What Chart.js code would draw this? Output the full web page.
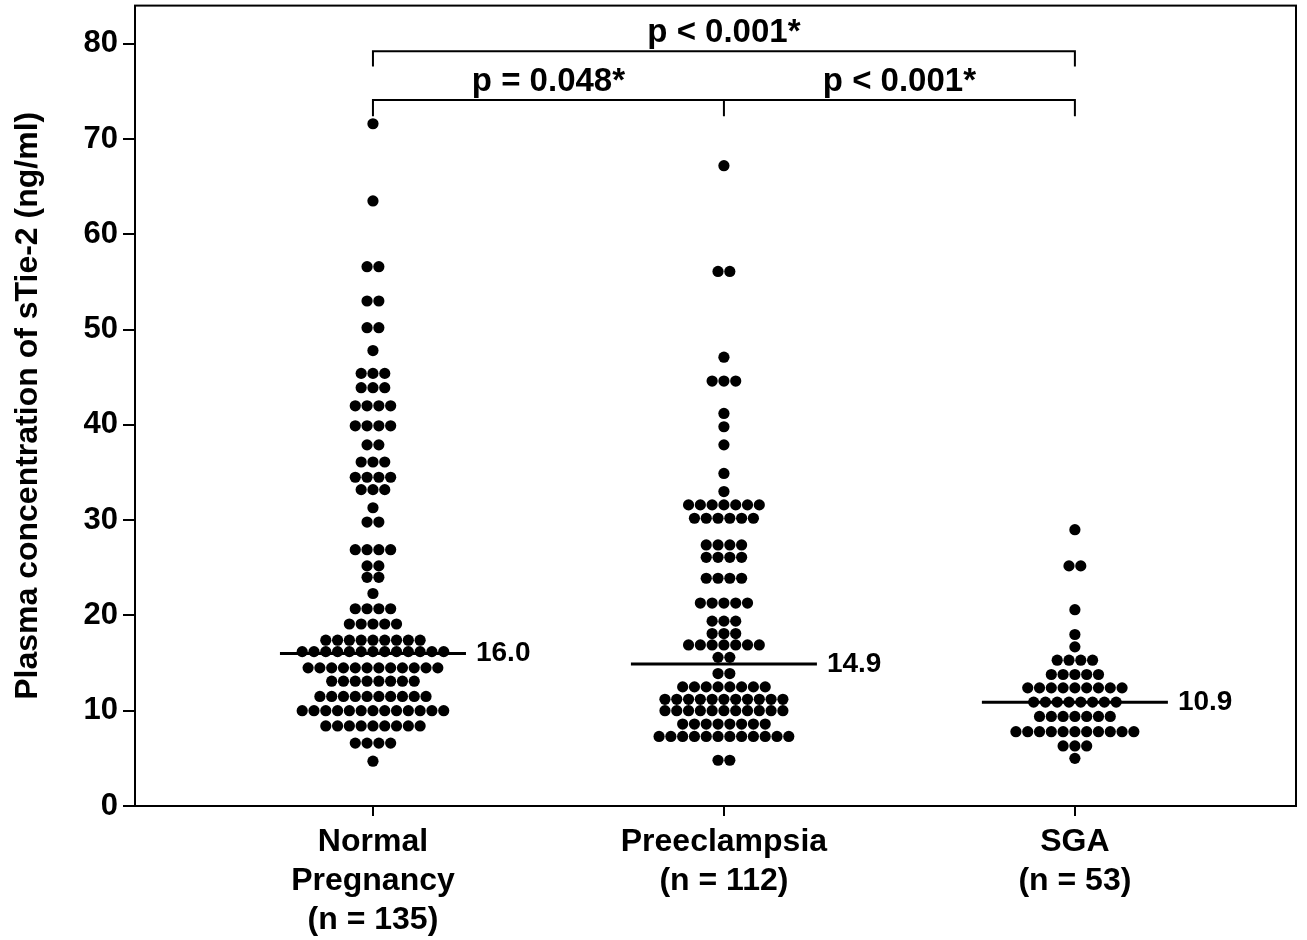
<!DOCTYPE html>
<html>
<head>
<meta charset="utf-8">
<script src="https://cdn.jsdelivr.net/npm/chart.js@4.4.1/dist/chart.umd.min.js"></script>
<style>
  html, body { margin: 0; padding: 0; background: #fff; }
</style>
</head>
<body>
<canvas id="graficoSTie2" width="1307" height="940"></canvas>
<script>
// categorias e rótulos
const categoryLabels = [
  ["Normal", "Pregnancy", "(n = 135)"],
  ["Preeclampsia", "(n = 112)"],
  ["SGA", "(n = 53)"]
];
const yTicks = [0, 10, 20, 30, 40, 50, 60, 70, 80];

// valores (nível, quantidade de pontos naquele nível)
const normalLevels = [71.6, 63.5, 56.6, 53.0, 50.2, 47.8, 45.4, 43.9, 42.0, 39.9, 37.9, 36.1, 34.5, 33.2, 31.3, 29.8, 26.9, 25.2, 24.0, 22.3, 20.7, 19.1, 17.4, 16.2, 14.5, 13.1, 11.5, 10.0, 8.4, 6.6, 4.7];
const normalCounts = [1, 1, 2, 2, 2, 1, 3, 3, 4, 4, 2, 3, 4, 3, 1, 2, 4, 2, 2, 1, 4, 5, 9, 13, 12, 8, 10, 13, 9, 4, 1];

const preeclampsiaLevels = [67.2, 56.1, 47.1, 44.6, 41.2, 39.8, 37.9, 34.9, 33.0, 31.6, 30.2, 27.4, 26.1, 23.9, 21.3, 19.4, 18.1, 16.9, 15.6, 13.9, 12.5, 11.2, 10.0, 8.6, 7.3, 4.8];
const preeclampsiaCounts = [1, 2, 1, 3, 1, 1, 1, 1, 1, 7, 6, 4, 4, 4, 5, 3, 3, 7, 2, 2, 8, 11, 11, 8, 12, 2];

const sgaLevels = [29.0, 25.2, 20.6, 18.0, 16.7, 15.3, 13.8, 12.4, 10.9, 9.4, 7.8, 6.3, 5.0];
const sgaCounts = [1, 2, 1, 1, 1, 4, 5, 9, 8, 7, 11, 3, 1];

const medians = [16.0, 14.9, 10.9];
const pValues = ["p < 0.001*", "p = 0.048*", "p < 0.001*"];

const FONT = "'Liberation Sans', Arial, sans-serif";
const dotGap = 0.0336;     // distância horizontal entre pontos (unidades do eixo x)
const medianHalf = 0.265;  // meia largura da linha da mediana

function swarm(pos, levels, counts) {
  const pts = [];
  levels.forEach((v, i) => {
    const n = counts[i];
    for (let k = 0; k < n; k++) {
      pts.push({ x: pos + (k - (n - 1) / 2) * dotGap, y: v });
    }
  });
  return pts;
}

const groups = [
  swarm(1, normalLevels, normalCounts),
  swarm(2, preeclampsiaLevels, preeclampsiaCounts),
  swarm(3, sgaLevels, sgaCounts)
];

const datasets = groups.map(pts => ({
  type: "scatter",
  data: pts,
  pointRadius: 5.6,
  pointBackgroundColor: "#000",
  pointBorderWidth: 0,
  pointHoverRadius: 5.6
}));

medians.forEach((m, i) => {
  datasets.push({
    type: "line",
    data: [{ x: i + 1 - medianHalf, y: m }, { x: i + 1 + medianHalf, y: m }],
    borderColor: "#000",
    borderWidth: 3,
    pointRadius: 0,
    fill: false
  });
});

// moldura, colchetes e rótulos das medianas
const extras = {
  id: "extras",
  afterDatasetsDraw(chart) {
    const { ctx, chartArea, scales } = chart;
    const x = scales.x, y = scales.y;
    ctx.save();
    ctx.strokeStyle = "#000";
    ctx.lineWidth = 2;
    ctx.strokeRect(chartArea.left, chartArea.top, chartArea.right - chartArea.left, chartArea.bottom - chartArea.top);

    // colchetes
    const yTop = y.getPixelForValue(79.2), yTopEnd = y.getPixelForValue(77.6);
    const yLow = y.getPixelForValue(74.1), yLowEnd = y.getPixelForValue(72.4);
    ctx.beginPath();
    ctx.moveTo(x.getPixelForValue(1), yTopEnd);
    ctx.lineTo(x.getPixelForValue(1), yTop);
    ctx.lineTo(x.getPixelForValue(3), yTop);
    ctx.lineTo(x.getPixelForValue(3), yTopEnd);
    ctx.moveTo(x.getPixelForValue(1), yLowEnd);
    ctx.lineTo(x.getPixelForValue(1), yLow);
    ctx.lineTo(x.getPixelForValue(3), yLow);
    ctx.lineTo(x.getPixelForValue(3), yLowEnd);
    ctx.moveTo(x.getPixelForValue(2), yLow);
    ctx.lineTo(x.getPixelForValue(2), yLowEnd);
    ctx.stroke();

    ctx.fillStyle = "#000";
    ctx.font = "bold 33px " + FONT;
    ctx.textAlign = "center";
    ctx.textBaseline = "alphabetic";
    ctx.fillText(pValues[0], x.getPixelForValue(2), yTop - 9);
    ctx.fillText(pValues[1], x.getPixelForValue(1.5), yLow - 9);
    ctx.fillText(pValues[2], x.getPixelForValue(2.5), yLow - 9);

    // valores das medianas
    ctx.font = "bold 28px " + FONT;
    ctx.textAlign = "left";
    ctx.textBaseline = "middle";
    medians.forEach((m, i) => {
      ctx.fillText(m.toFixed(1), x.getPixelForValue(i + 1 + medianHalf) + 10, y.getPixelForValue(m));
    });
    ctx.restore();
  }
};

const chartInstance = new Chart(document.getElementById("graficoSTie2"), {
  type: "scatter",
  data: { datasets },
  plugins: [extras],
  options: {
    responsive: false,
    animation: false,
    events: [],
    layout: { padding: { top: 1, right: 11, left: 0, bottom: 0 } },
    plugins: { legend: { display: false }, tooltip: { enabled: false } },
    scales: {
      x: {
        type: "linear",
        min: 0.322,
        max: 3.63,
        afterFit: (s) => { s.height = 134; s.paddingLeft = 0; s.paddingRight = 0; },
        afterBuildTicks: (s) => { s.ticks = categoryLabels.map((_, i) => ({ value: i + 1 })); },
        ticks: {
          color: "#000",
          font: { family: FONT, size: 32, weight: "bold", lineHeight: 1.22 },
          padding: 7,
          maxRotation: 0,
          callback: (v) => categoryLabels[Math.round(v) - 1]
        },
        grid: { drawOnChartArea: false, drawTicks: true, tickLength: 10, color: "#000", lineWidth: 2 },
        border: { display: true, color: "#000", width: 2 }
      },
      y: {
        min: 0,
        max: 84,
        afterFit: (s) => { s.width = 135; s.paddingTop = 0; s.paddingBottom = 0; },
        afterBuildTicks: (s) => { s.ticks = yTicks.map(v => ({ value: v })); },
        ticks: {
          color: "#000",
          font: { family: FONT, size: 31, weight: "bold" },
          padding: 5
        },
        grid: { drawOnChartArea: false, drawTicks: true, tickLength: 12, color: "#000", lineWidth: 2 },
        border: { display: true, color: "#000", width: 2 },
        title: {
          display: true,
          text: "Plasma concentration of sTie-2 (ng/ml)",
          color: "#000",
          font: { family: FONT, size: 32, weight: "bold" },
          padding: { top: 9, bottom: 0 }
        }
      }
    }
  }
});
</script>
</body>
</html>
